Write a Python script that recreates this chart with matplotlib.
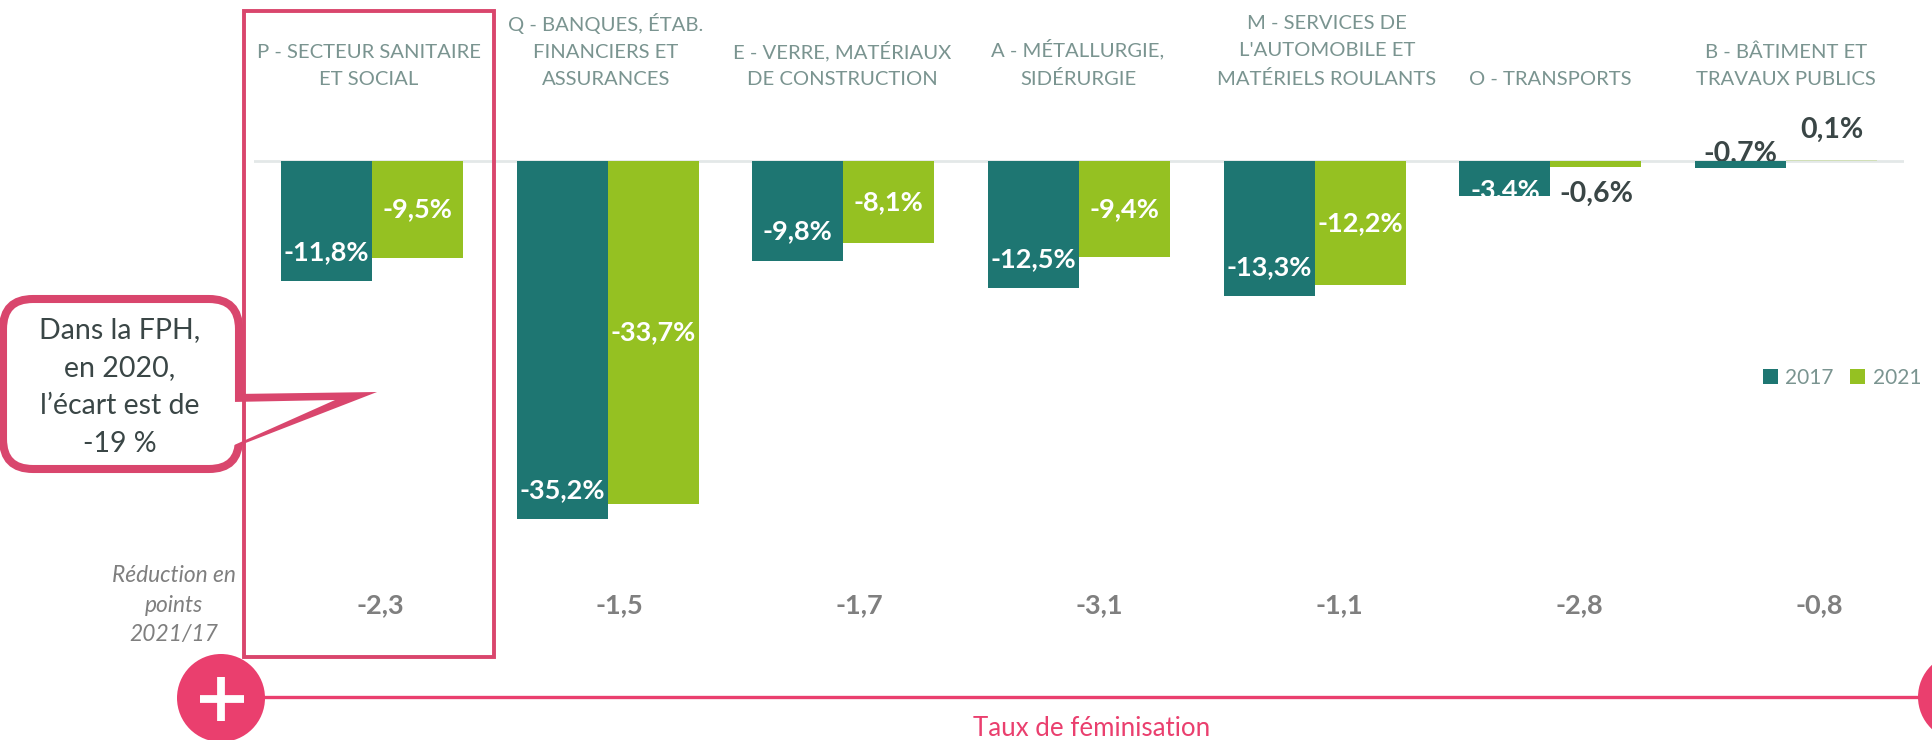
import matplotlib
matplotlib.use('Agg')
import matplotlib.pyplot as plt
from matplotlib.patches import Circle, FancyBboxPatch, Polygon, Rectangle

plt.rcParams['font.family'] = ['Lato', 'DejaVu Sans']

# Data
categories = ['P - SECTEUR SANITAIRE\nET SOCIAL', 'Q - BANQUES, ÉTAB.\nFINANCIERS ET\nASSURANCES',
              'E - VERRE, MATÉRIAUX\nDE CONSTRUCTION', 'A - MÉTALLURGIE,\nSIDÉRURGIE',
              "M - SERVICES DE\nL'AUTOMOBILE ET\nMATÉRIELS ROULANTS", 'O - TRANSPORTS',
              'B - BÂTIMENT ET\nTRAVAUX PUBLICS']
values_2017 = [-11.8, -35.2, -9.8, -12.5, -13.3, -3.4, -0.7]
values_2021 = [-9.5, -33.7, -8.1, -9.4, -12.2, -0.6, 0.1]
reduction = ['-2,3', '-1,5', '-1,7', '-3,1', '-1,1', '-2,8', '-0,8']

TEAL = '#1E7672'
GREEN = '#95C122'
PINK = '#EA3F6E'
ROSE = '#D9466D'
LABEL = '#7A9490'
DARK = '#3A4646'
GREY = '#7F7F7F'


def pct(v):
    return f'{v:.1f}'.replace('.', ',') + '%'


fig = plt.figure(figsize=(19.32, 7.4), dpi=100)

# Chart axes: zero sits at y=161px, 10.17px per point
ax = fig.add_axes([254 / 1932, 0, 1650 / 1932, 1])
ax.set_xlim(-0.5, 6.5)
ax.set_ylim(-(740 - 161) / 10.17, 161 / 10.17)
ax.axis('off')

width = 0.386
x = list(range(len(categories)))
bars_2017 = ax.bar([i - width / 2 for i in x], values_2017, width, color=TEAL, label='2017', zorder=3)
bars_2021 = ax.bar([i + width / 2 for i in x], values_2021, width, color=GREEN, label='2021', zorder=3)
bars_2021[6].set_alpha(0.25)
ax.axhline(0, color='#E3E8E8', lw=2, zorder=1)

# Labels inside the bars
for i in range(5):
    ax.annotate(pct(values_2017[i]), (i - width / 2, values_2017[i]), xytext=(0, 21), textcoords='offset points',
                ha='center', va='center', color='white', fontsize=19.5, fontweight='bold', zorder=4)
    ax.text(i + width / 2, values_2021[i] / 2, pct(values_2021[i]), ha='center', va='center',
            color='white', fontsize=19.5, fontweight='bold', zorder=4)

# Small bars have their labels placed by hand
ax.text(5 - width / 2, -2.85, pct(values_2017[5]), ha='center', va='center', color='white',
        fontsize=19.5, fontweight='bold', zorder=4)
ax.text(5 + width / 2, -3.2, pct(values_2021[5]), ha='center', va='center', color=DARK,
        fontsize=20.5, fontweight='bold', zorder=4)
ax.text(6 - width / 2, 0.75, pct(values_2017[6]), ha='center', va='center', color=DARK,
        fontsize=20.5, fontweight='bold', zorder=2)
ax.text(6 + width / 2, 3.05, pct(values_2021[6]), ha='center', va='center', color=DARK,
        fontsize=20.5, fontweight='bold', zorder=4)

fig.legend(handles=[bars_2017, bars_2021], loc='center', bbox_to_anchor=(1842 / 1932, 1 - 378 / 740), ncol=2,
           frameon=False, fontsize=15, labelcolor=LABEL, handlelength=0.72, handleheight=0.72,
           handletextpad=0.35, columnspacing=0.8)

# Overlay in pixel coordinates for the annotations around the chart
ov = fig.add_axes([0, 0, 1, 1], zorder=5)
ov.set_xlim(0, 1932)
ov.set_ylim(740, 0)
ov.axis('off')
ov.patch.set_alpha(0)

label_shift = {0: -3, 1: -2, 2: -1, 3: -1, 4: 12}
for i, name in enumerate(categories):
    ov.text(372 + 235.7 * i + label_shift.get(i, 0), 88, name, ha='center', va='bottom', color=LABEL,
            fontsize=14.6, linespacing=1.72)

for i, txt in enumerate(reduction):
    ov.text(380 + 239.8 * i, 605, txt, ha='center', va='center', color=GREY, fontsize=19.5, fontweight='bold')

ov.text(174, 605, 'Réduction en\npoints\n2021/17', ha='center', va='center', color=GREY,
        fontsize=16.4, fontstyle='italic', linespacing=1.5)

# Callout
ov.add_patch(FancyBboxPatch((33, 329), 176, 110, boxstyle='round,pad=30,rounding_size=30',
                            fc='white', ec=ROSE, lw=5.8))
ov.add_patch(Polygon([(235, 394), (377, 392), (243, 444), (235, 448)], closed=True, fc=ROSE, ec='none'))
ov.add_patch(Polygon([(232, 402), (335, 400), (232, 446)], closed=True, fc='white', ec='none'))
ov.text(120, 387, 'Dans la FPH,\nen 2020,\nl’écart est de\n-19 %', ha='center', va='center', color=DARK,
        fontsize=20.5, linespacing=1.58)

# Highlight around the first category
ov.add_patch(Rectangle((244, 11), 250, 646, fc='none', ec=ROSE, lw=2.8))

# Bottom scale
ov.plot([221, 1962], [697, 697], color=PINK, lw=2.4, solid_capstyle='butt')
ov.add_patch(Circle((221, 698), 44, fc=PINK, ec='none'))
ov.add_patch(Circle((1962, 697), 44, fc=PINK, ec='none'))
ov.plot([200, 244], [699, 699], color='white', lw=5.6, solid_capstyle='butt')
ov.plot([221, 221], [677, 721], color='white', lw=5.6, solid_capstyle='butt')
ov.text(1092, 728, 'Taux de féminisation', ha='center', va='center', color=PINK, fontsize=18.6)

fig.savefig('out.png', dpi=100)
